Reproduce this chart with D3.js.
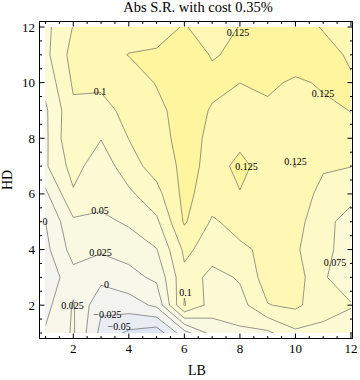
<!DOCTYPE html>
<html lang="en">
<head>
<meta charset="UTF-8">
<title>Abs S.R. with cost 0.35%</title>
<script src="https://cdn.jsdelivr.net/npm/d3@7"></script>
<style>
  body { margin: 0; background: #fff; }
  svg { display: block; font-family: "Liberation Serif", "DejaVu Serif", serif; }
  .tick-label { font-size: 13px; fill: #000; }
  .clabel { font-size: 10px; fill: #000; }
</style>
</head>
<body>
<svg id="chart" width="360" height="380"></svg>
<script>
// grid axes
const lbValues = [1, 2, 3, 4, 5, 6, 7, 8, 9, 10, 11, 12];
const hdValues = [1, 2, 3, 4, 5, 6, 7, 8, 9, 10, 11, 12];

// Abs S.R. per HD row, LB = 1..12
const hd1  = [0.003, 0.028, -0.0325, -0.055, -0.065, -0.010, 0.034, 0.045, 0.045, 0.070, 0.068, 0.060];
const hd2  = [-0.008, 0.027, -0.020, -0.012, 0.005, 0.102, 0.064, 0.065, 0.099, 0.105, 0.085, 0.077];
const hd3  = [-0.018, 0.0165, 0.008, 0.0173, 0.030, 0.094, 0.065, 0.078, 0.112, 0.112, 0.078, 0.058];
const hd4  = [-0.007, 0.035, 0.028, 0.034, 0.049, 0.105, 0.090, 0.096, 0.105, 0.103, 0.084, 0.060];
const hd5  = [0.000, 0.046, 0.043, 0.054, 0.070, 0.128, 0.097, 0.108, 0.115, 0.108, 0.085, 0.062];
const hd6  = [0.020, 0.072, 0.062, 0.070, 0.092, 0.132, 0.112, 0.1245, 0.118, 0.115, 0.092, 0.085];
const hd7  = [0.0466, 0.0845, 0.060, 0.090, 0.110, 0.131, 0.120, 0.128, 0.120, 0.1255, 0.103, 0.1005];
const hd8  = [0.045, 0.0986, 0.076, 0.1005, 0.109, 0.140, 0.1166, 0.122, 0.118, 0.120, 0.118, 0.118];
const hd9  = [0.046, 0.0955, 0.091, 0.108, 0.116, 0.140, 0.1225, 0.118, 0.120, 0.120, 0.120, 0.1255];
const hd10 = [0.058, 0.1034, 0.105, 0.107, 0.127, 0.140, 0.132, 0.1251, 0.130, 0.121, 0.128, 0.128];
const hd11 = [0.0685, 0.1095, 0.113, 0.126, 0.130, 0.140, 0.123, 0.130, 0.135, 0.140, 0.135, 0.121];
const hd12 = [0.068, 0.101, 0.108, 0.110, 0.109, 0.128, 0.105, 0.1265, 0.135, 0.137, 0.123, 0.118];

const levels = [-0.05, -0.025, 0, 0.025, 0.05, 0.075, 0.1, 0.125];
const bandColors = ["#dde4f3", "#e9edf3", "#f3f4ef", "#f7f7ea", "#f9f9e1", "#fcfbd5", "#fefac7", "#fff8b5", "#fff59e"];

const xTicks = [2, 4, 6, 8, 10, 12];
const yTicks = [2, 4, 6, 8, 10, 12];

// contour labels as Mathematica placed them
const labelText = ["0.125", "0.1", "0.125", "0.125", "0.125", "0.05", "0.025", "0", "0.025", "\u22120.025", "\u22120.05", "0", "0.1", "0.075"];
const labelLB   = [7.93, 2.96, 10.99, 8.24, 10.0, 2.96, 2.98, 3.2, 1.97, 3.23, 3.65, 0.98, 6.04, 11.42];
const labelHD   = [11.79, 9.67, 9.6, 6.97, 7.15, 5.42, 3.88, 2.73, 2.0, 1.68, 1.25, 5.0, 2.44, 3.52];

const frame = { left: 39.5, right: 352.5, top: 21.5, bottom: 338.5 };

const svg = d3.select("#chart");

const x = d3.scaleLinear().domain([1, 12]).range([45.5, 351]);
const y = d3.scaleLinear().domain([1, 12]).range([333, 27]);

const grid = [hd1, hd2, hd3, hd4, hd5, hd6, hd7, hd8, hd9, hd10, hd11, hd12];
const values = [];
grid.forEach(row => row.forEach(v => values.push(v)));

const nx = lbValues.length, ny = hdValues.length;
const contours = d3.contours().size([nx, ny]).thresholds(levels)(values);

// grid cell centre (i + 0.5) sits on LB/HD value i + 1
const proj = d3.geoTransform({
    point(px, py) { this.stream.point(x(px + 0.5), y(py + 0.5)); }
});
const path = d3.geoPath(proj);

svg.append("clipPath").attr("id", "plotClip")
    .append("rect")
    .attr("x", x(1)).attr("y", y(12))
    .attr("width", x(12) - x(1)).attr("height", y(1) - y(12));

const plot = svg.append("g").attr("clip-path", "url(#plotClip)");

plot.append("rect")
    .attr("x", x(1)).attr("y", y(12))
    .attr("width", x(12) - x(1)).attr("height", y(1) - y(12))
    .attr("fill", bandColors[0]);

plot.selectAll("path.band")
    .data(contours)
    .enter().append("path")
    .attr("class", "band")
    .attr("d", path)
    .attr("fill", (d, i) => bandColors[i + 1])
    .attr("fill-rule", "evenodd")
    .attr("stroke", "none");

plot.selectAll("path.line")
    .data(contours)
    .enter().append("path")
    .attr("class", "line")
    .attr("d", path)
    .attr("fill", "none")
    .attr("stroke", "#555")
    .attr("stroke-opacity", 0.6)
    .attr("stroke-width", 1);

// contour labels
svg.selectAll("text.clabel")
    .data(labelText)
    .enter().append("text")
    .attr("class", "clabel")
    .attr("x", (d, i) => x(labelLB[i]))
    .attr("y", (d, i) => y(labelHD[i]))
    .attr("dy", "0.35em")
    .attr("text-anchor", "middle")
    .text(d => d);

// frame
svg.append("rect")
    .attr("x", frame.left).attr("y", frame.top)
    .attr("width", frame.right - frame.left).attr("height", frame.bottom - frame.top)
    .attr("fill", "none").attr("stroke", "#000").attr("stroke-width", 1);

// ticks on all four sides, major every 2, minor every 0.5
const minor = d3.range(1, 12.01, 0.5).filter(v => !xTicks.includes(v));
const ticks = svg.append("g").attr("stroke", "#000").attr("stroke-width", 1);
function tickSet(list, len) {
    list.forEach(v => {
        ticks.append("line").attr("x1", x(v)).attr("x2", x(v)).attr("y1", frame.bottom).attr("y2", frame.bottom - len);
        ticks.append("line").attr("x1", x(v)).attr("x2", x(v)).attr("y1", frame.top).attr("y2", frame.top + len);
        ticks.append("line").attr("y1", y(v)).attr("y2", y(v)).attr("x1", frame.left).attr("x2", frame.left + len);
        ticks.append("line").attr("y1", y(v)).attr("y2", y(v)).attr("x1", frame.right).attr("x2", frame.right - len);
    });
}
tickSet(xTicks, 5);
tickSet(minor, 2.5);

svg.selectAll("text.xt")
    .data(xTicks)
    .enter().append("text")
    .attr("class", "tick-label")
    .attr("x", d => x(d)).attr("y", 353)
    .attr("text-anchor", "middle")
    .text(d => d);

svg.selectAll("text.yt")
    .data(yTicks)
    .enter().append("text")
    .attr("class", "tick-label")
    .attr("x", 35).attr("y", d => y(d))
    .attr("dy", "0.35em")
    .attr("text-anchor", "end")
    .text(d => d);

svg.append("text")
    .attr("x", 198).attr("y", 12)
    .attr("text-anchor", "middle")
    .attr("font-size", 14.5)
    .text("Abs S.R. with cost 0.35%");

svg.append("text")
    .attr("x", 197).attr("y", 375)
    .attr("text-anchor", "middle")
    .attr("font-size", 14)
    .text("LB");

svg.append("text")
    .attr("transform", "translate(12,180) rotate(-90)")
    .attr("text-anchor", "middle")
    .attr("font-size", 14)
    .text("HD");
</script>
</body>
</html>
